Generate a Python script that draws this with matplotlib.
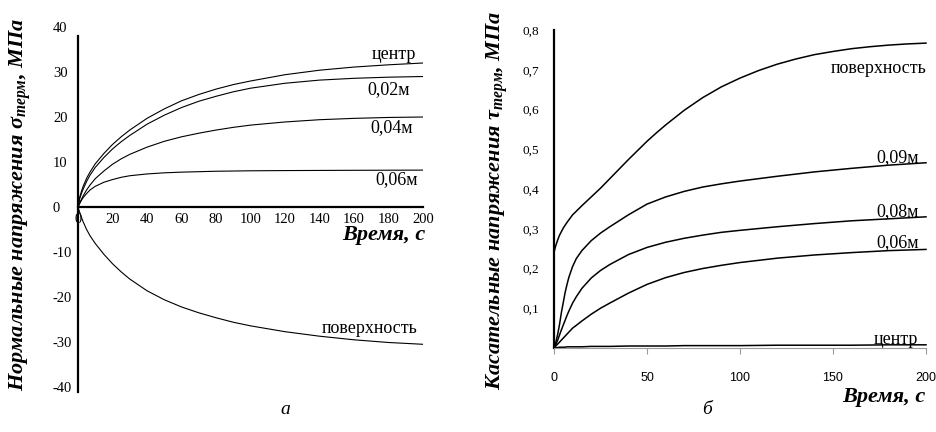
import matplotlib
matplotlib.use("Agg")
import matplotlib.pyplot as plt

plt.rcParams['font.family'] = ['Liberation Serif', 'DejaVu Serif']
plt.rcParams['mathtext.fontset'] = 'custom'
plt.rcParams['mathtext.rm'] = 'Liberation Serif:bold:italic'
plt.rcParams['mathtext.it'] = 'Liberation Serif:bold:italic'
plt.rcParams['mathtext.bf'] = 'Liberation Serif:bold:italic'

# ---------------- data: panel a (normal stresses, MPa) ----------------
t_a = [0, 1, 2, 3, 5, 7, 10, 15, 20, 25, 30, 40, 50, 60, 70, 80, 90, 100, 120, 140, 160, 180, 200]
sig_center = [0, 2.2, 3.5, 4.6, 6.4, 7.8, 9.6, 11.9, 13.9, 15.6, 17.1, 19.7, 21.8, 23.6, 25.0, 26.2,
              27.2, 28.0, 29.4, 30.4, 31.1, 31.6, 32.0]
sig_002 = [0, 1.9, 3.0, 4.0, 5.7, 7.1, 8.8, 11.0, 12.9, 14.5, 15.9, 18.4, 20.4, 22.1, 23.5, 24.6,
           25.6, 26.4, 27.5, 28.2, 28.6, 28.85, 29.0]
sig_004 = [0, 0.9, 1.7, 2.5, 3.8, 4.9, 6.3, 8.0, 9.5, 10.7, 11.7, 13.3, 14.6, 15.6, 16.4, 17.1,
           17.7, 18.2, 18.9, 19.4, 19.7, 19.9, 20.0]
sig_006 = [0, 0.8, 1.5, 2.1, 3.0, 3.8, 4.6, 5.5, 6.1, 6.6, 6.95, 7.35, 7.6, 7.75, 7.85, 7.95,
           8.0, 8.05, 8.1, 8.13, 8.16, 8.18, 8.2]
sig_surf = [0, -1.2, -2.3, -3.3, -5.0, -6.4, -8.1, -10.5, -12.6, -14.4, -16.0, -18.6, -20.6, -22.2,
            -23.5, -24.6, -25.6, -26.4, -27.7, -28.7, -29.5, -30.1, -30.5]
labels_a = ['центр', '0,02м', '0,04м', '0,06м', 'поверхность']
xticks_a = [0, 20, 40, 60, 80, 100, 120, 140, 160, 180, 200]
yticks_a = [40, 30, 20, 10, 0, -10, -20, -30, -40]

# ---------------- data: panel б (shear stresses, MPa) ----------------
t_surf = [0, 0, 0.5, 1, 2, 3, 5, 7, 10, 15, 20, 25, 30, 35, 40, 45, 50, 55, 60, 70, 80, 90, 100,
          110, 120, 130, 140, 150, 160, 170, 180, 190, 200]
tau_surf = [0, 0.24, 0.25, 0.258, 0.272, 0.284, 0.302, 0.316, 0.335, 0.358, 0.38, 0.402, 0.426,
            0.45, 0.474, 0.497, 0.52, 0.541, 0.561, 0.598, 0.63, 0.657, 0.679, 0.698, 0.714, 0.727,
            0.738, 0.746, 0.753, 0.758, 0.762, 0.765, 0.767]
t_b = [0, 1, 2, 3, 4, 5, 6, 7, 8, 10, 12, 15, 20, 25, 30, 40, 50, 60, 70, 80, 90, 100, 120, 140,
       160, 180, 200]
tau_009 = [0, 0.015, 0.035, 0.06, 0.09, 0.115, 0.14, 0.16, 0.178, 0.205, 0.225, 0.245, 0.27, 0.289,
           0.305, 0.335, 0.362, 0.38, 0.394, 0.405, 0.413, 0.42, 0.432, 0.443, 0.452, 0.46, 0.466]
tau_008 = [0, 0.009, 0.02, 0.033, 0.046, 0.058, 0.07, 0.082, 0.093, 0.113, 0.129, 0.15, 0.176, 0.195,
           0.21, 0.235, 0.253, 0.266, 0.276, 0.284, 0.291, 0.296, 0.305, 0.313, 0.32, 0.325, 0.33]
tau_006 = [0, 0.005, 0.01, 0.015, 0.02, 0.025, 0.03, 0.035, 0.04, 0.05, 0.057, 0.068, 0.085, 0.1,
           0.113, 0.138, 0.16, 0.177, 0.19, 0.2, 0.208, 0.215, 0.226, 0.234, 0.24, 0.245, 0.248]
tau_center = [0, 0.001, 0.001, 0.002, 0.002, 0.002, 0.002, 0.003, 0.003, 0.003, 0.003, 0.003, 0.004,
              0.004, 0.004, 0.005, 0.005, 0.005, 0.006, 0.006, 0.006, 0.006, 0.007, 0.007, 0.007,
              0.008, 0.008]
labels_b = ['поверхность', '0,09м', '0,08м', '0,06м', 'центр']
xticks_b = [0, 50, 100, 150, 200]
yticks_b = [0.1, 0.2, 0.3, 0.4, 0.5, 0.6, 0.7, 0.8]
yticklabels_b = ['0,1', '0,2', '0,3', '0,4', '0,5', '0,6', '0,7', '0,8']

W, H = 937, 432
fig = plt.figure(figsize=(W / 100, H / 100), dpi=100)
fig.patch.set_facecolor('white')


def px_axes(x0, x1, ytop, ybot):
    return fig.add_axes([x0 / W, (H - ybot) / H, (x1 - x0) / W, (ybot - ytop) / H])


# ---------------- panel a ----------------
axa = px_axes(78, 423, 27, 392)
axa.set_xlim(0, 200)
axa.set_ylim(-41.1, 40)
for s in ['top', 'right']:
    axa.spines[s].set_visible(False)
axa.spines['left'].set_position(('data', 0))
axa.spines['left'].set_bounds(-41.1, 38)
axa.spines['left'].set_linewidth(1.6)
axa.spines['bottom'].set_position(('data', 0))
axa.spines['bottom'].set_linewidth(1.6)
axa.set_facecolor('none')

lw_a = 0.8
for ys in [sig_center, sig_002, sig_004, sig_006, sig_surf]:
    axa.plot(t_a, ys, color='black', lw=lw_a)

axa.set_xticks(xticks_a)
axa.set_xticklabels([str(v) for v in xticks_a])
axa.set_yticks(yticks_a)
axa.set_yticklabels([str(v) for v in yticks_a])
axa.tick_params(axis='x', length=0, pad=4, labelsize=10.5)
axa.tick_params(axis='y', length=0, pad=18, labelsize=10.5)
for lab in axa.get_yticklabels():
    lab.set_ha('left')

pos_a = [(183, 33.8), (180, 26.0), (182, 17.6), (185, 6.0), (169, -26.9)]
for (x, y), txt in zip(pos_a, labels_a):
    axa.text(x, y, txt, ha='center', va='center', fontsize=13)

fig.text(425 / W, 1 - 235 / H, 'Время, с', ha='right', va='center', fontsize=16,
         fontweight='bold', fontstyle='italic')
fig.text(20 / W, 1 - 205 / H, r'Нормальные напряжения $\sigma_{терм}$, МПа', rotation=90,
         ha='center', va='center', fontsize=16, fontweight='bold', fontstyle='italic')

# ---------------- panel б ----------------
axb = px_axes(554, 926, 30, 348)
axb.set_xlim(0, 200)
axb.set_ylim(0, 0.8)
for s in ['top', 'right']:
    axb.spines[s].set_visible(False)
axb.spines['left'].set_linewidth(1.6)
axb.spines['bottom'].set_linewidth(0.8)
axb.spines['bottom'].set_color('#9a9a9a')
axb.set_facecolor('none')

lw_b = 1.1
axb.plot(t_surf, tau_surf, color='black', lw=lw_b, clip_on=False)
for ys in [tau_009, tau_008, tau_006, tau_center]:
    axb.plot(t_b, ys, color='black', lw=lw_b, clip_on=False)

axb.set_xticks(xticks_b)
axb.set_xticklabels([str(v) for v in xticks_b], family='Liberation Sans')
axb.set_yticks(yticks_b)
axb.set_yticklabels(yticklabels_b)
axb.tick_params(axis='x', length=4, width=0.8, color='#9a9a9a', pad=13, labelsize=9)
axb.tick_params(axis='y', length=0, pad=23, labelsize=9.5)
for lab in axb.get_yticklabels():
    lab.set_ha('left')

pos_b = [(200, 0.704), (196, 0.48), (196, 0.342), (196, 0.266), (196, 0.022)]
for (x, y), txt in zip(pos_b, labels_b):
    axb.text(x, y, txt, ha='right', va='center', fontsize=13)

fig.text(925 / W, 1 - 397 / H, 'Время, с', ha='right', va='center', fontsize=16,
         fontweight='bold', fontstyle='italic')
fig.text(497 / W, 1 - 200 / H, r'Касательные напряжения $\tau_{терм}$, МПа', rotation=90,
         ha='center', va='center', fontsize=16, fontweight='bold', fontstyle='italic')

fig.text(285 / W, 1 - 410 / H, 'а', ha='center', va='center', fontsize=14, fontstyle='italic')
fig.text(707 / W, 1 - 410 / H, 'б', ha='center', va='center', fontsize=14, fontstyle='italic')

fig.savefig('out.png', dpi=100, facecolor='white')
